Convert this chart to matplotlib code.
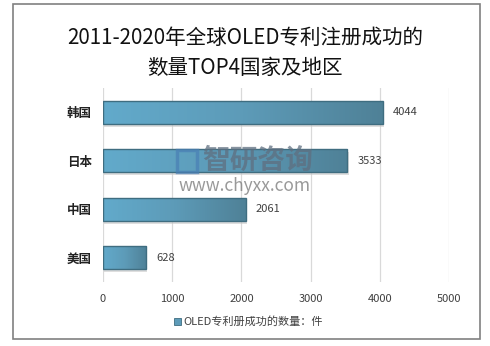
import numpy as np
import matplotlib
matplotlib.use("Agg")
import matplotlib.pyplot as plt
from matplotlib.patches import Rectangle
import matplotlib.colors as mcolors

plt.rcParams['font.family'] = ['Noto Sans CJK SC', 'DejaVu Sans']

# data
regions = ['韩国', '日本', '中国', '美国']
counts = [4044, 3533, 2061, 628]
xticks = [0, 1000, 2000, 3000, 4000, 5000]
title = '2011-2020年全球OLED专利注册成功的\n数量TOP4国家及地区'
legend_label = 'OLED专利册成功的数量：件'

fig = plt.figure(figsize=(4.9, 3.46), dpi=100)
fig.patch.set_facecolor('white')
# outer frame
fig.patches.append(Rectangle((13 / 490, 7 / 346), 467 / 490, 335 / 346,
                             transform=fig.transFigure, fill=False,
                             edgecolor='#808080', linewidth=1.2))

ax = fig.add_axes([0.2102, 0.185, 0.7061, 0.5607])
ypos = np.arange(len(regions))[::-1]
bar_h = 0.47

cmap = mcolors.LinearSegmentedColormap.from_list('bar', ['#62aacb', '#5d9bb8', '#4f8197'])
grad = np.linspace(0, 1, 256).reshape(1, -1)
for y, v in zip(ypos, counts):
    # shadow
    ax.add_patch(Rectangle((15, y - bar_h / 2 - 0.06), v, bar_h, facecolor='#c8c8c8',
                           edgecolor='none', alpha=0.6, zorder=2))
    ax.imshow(grad, cmap=cmap, aspect='auto', extent=(0, v, y - bar_h / 2, y + bar_h / 2),
              zorder=3)
    ax.add_patch(Rectangle((0, y - bar_h / 2), v, bar_h, facecolor='none',
                           edgecolor='#3f6d80', linewidth=1.0, zorder=4))
    ax.text(v + 140, y, str(v), va='center', ha='left', fontsize=8, color='#404040',
            zorder=5)

ax.set_xlim(0, 5000)
ax.set_ylim(-0.5, 3.5)
ax.set_xticks(xticks)
ax.set_xticklabels([str(t) for t in xticks], fontsize=8, color='#404040')
ax.set_yticks(ypos)
ax.set_yticklabels(regions, fontsize=9, fontweight='bold', color='#222222')
ax.tick_params(length=0, pad=9)
ax.tick_params(axis='y', pad=8)
ax.grid(axis='x', color='#d9d9d9', linewidth=0.9, zorder=0)
ax.set_axisbelow(True)
for s in ax.spines.values():
    s.set_visible(False)

# watermark
fig.patches.append(Rectangle((177 / 490, 1 - 172 / 346), 20 / 490, 22 / 346,
                             transform=fig.transFigure, fill=False,
                             edgecolor='#4a7fb5', linewidth=2.5, alpha=0.7))
fig.text(258 / 490, 1 - 161 / 346, '智研咨询', fontsize=20, fontweight='bold',
         color='#5f6f80', alpha=0.75, ha='center', va='center')
fig.text(245 / 490, 1 - 186 / 346, 'www.chyxx.com', fontsize=12.5, color='#808080',
         alpha=0.8, ha='center', va='center')

fig.text(0.5, 1 - 53 / 346, title, fontsize=14.8, ha='center', va='center',
         color='#111111', linespacing=1.45)

# legend
fig.patches.append(Rectangle((174 / 490, 1 - 325 / 346), 7 / 490, 7 / 346,
                             transform=fig.transFigure, facecolor='#5d9bb8',
                             edgecolor='#3f6d80', linewidth=0.6))
fig.text(183 / 490, 1 - 321 / 346, legend_label, fontsize=8, color='#404040',
         ha='left', va='center')

fig.savefig('out.png', dpi=100)
